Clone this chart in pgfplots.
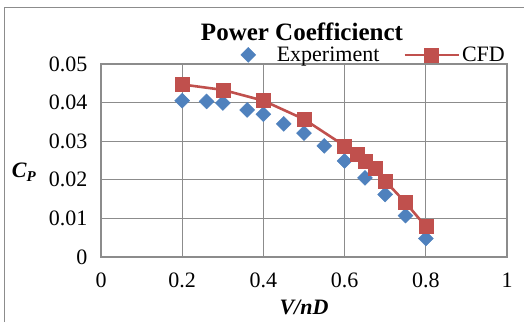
\documentclass[border=0pt]{standalone}
\usepackage{pgfplots}
\pgfplotsset{compat=1.18}
\usepackage{fontspec}
\setmainfont{Liberation Serif}
\definecolor{expblue}{HTML}{4F81BD}
\definecolor{cfdred}{HTML}{C0504D}
\definecolor{gridgray}{HTML}{8C8C8C}
\begin{document}
\begin{tikzpicture}
\path[use as bounding box] (0pt,0pt) rectangle (524pt,322pt);
\draw[gridgray,line width=0.8pt] (4pt,0pt) -- (4pt,315pt) -- (524pt,315pt);
\begin{axis}[
  at={(101pt,65pt)}, anchor=south west,
  width=406pt, height=193pt, scale only axis,
  xmin=0, xmax=1, ymin=0, ymax=0.05,
  xtick={0,0.2,0.4,0.6,0.8,1},
  xticklabels={0,0.2,0.4,0.6,0.8,1},
  ytick={0,0.01,0.02,0.03,0.04,0.05},
  yticklabels={0,0.01,0.02,0.03,0.04,0.05},
  scaled y ticks=false, scaled x ticks=false,
  major tick length=0pt,
  grid=major,
  major grid style={gridgray,line width=1.1pt},
  axis line style={gridgray,line width=1.1pt},
  tick label style={font=\fontsize{22}{24}\selectfont},
  xticklabel style={yshift=-12pt},
  yticklabel style={xshift=-10pt},
  xlabel={\bfseries\itshape V/nD},
  xlabel style={at={(axis description cs:0.5,-0.26)}, anchor=center, font=\fontsize{22}{24}\selectfont},
  ylabel={\bfseries\itshape C\raisebox{-0.35ex}{\fontsize{15}{15}\selectfont P}},
  ylabel style={at={(axis description cs:-0.19,0.44)}, anchor=center, rotate=-90, font=\fontsize{22}{24}\selectfont},
  title={\bfseries Power Coefficienct},
  title style={at={(axis description cs:0.495,1.135)}, anchor=center, font=\fontsize{25}{27}\selectfont},
  legend columns=2,
  legend style={at={(axis description cs:1.0,1.047)}, anchor=east, draw=none, fill=none,
    font=\fontsize{22}{24}\selectfont, inner sep=0pt,
    /tikz/every even column/.append style={column sep=22pt}},
]
\addplot[only marks, mark=square*, mark size=5.3pt, mark options={rotate=45, fill=expblue, draw=expblue}]
coordinates {
(0.20,0.0405) (0.26,0.0403) (0.30,0.0399) (0.36,0.0381) (0.40,0.0370)
(0.45,0.0345) (0.50,0.0321) (0.55,0.0288) (0.60,0.0249) (0.65,0.0205)
(0.70,0.0162) (0.75,0.0107) (0.80,0.0048)
};
\addlegendentry{\hspace{19pt}Experiment}
\addplot[cfdred, line width=2.6pt, mark=square*, mark size=7pt, mark options={fill=cfdred, draw=cfdred, line width=0.5pt},
  legend image code/.code={\draw[mark repeat=2,mark phase=2] plot coordinates {(0pt,0pt) (27pt,0pt) (54pt,0pt)};}]
coordinates {
(0.20,0.0447) (0.30,0.0433) (0.40,0.0405) (0.50,0.0357) (0.60,0.0288)
(0.63,0.0265) (0.65,0.0248) (0.675,0.0229) (0.70,0.0197) (0.75,0.0141)
(0.80,0.0079)
};
\addlegendentry{CFD}
\end{axis}
\end{tikzpicture}
\end{document}
